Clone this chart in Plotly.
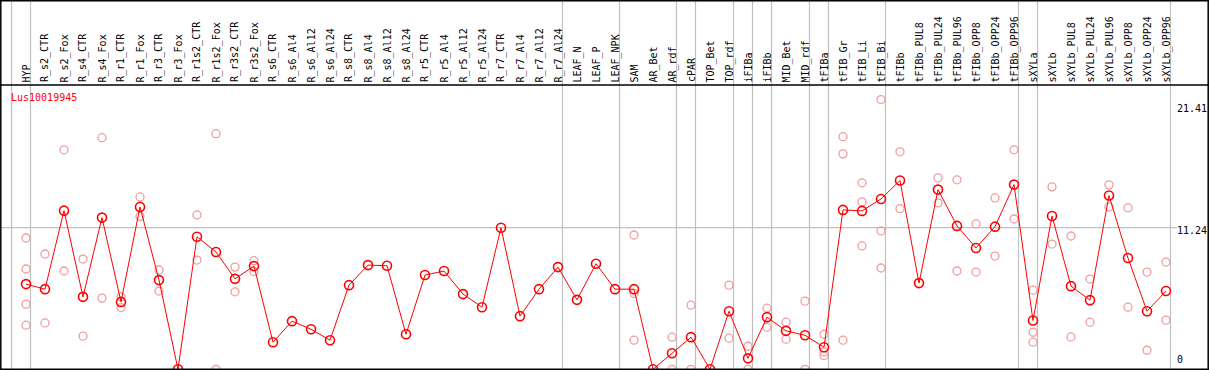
import plotly.graph_objects as go

categories = ["HYP", "R_s2_CTR", "R_s2_Fox", "R_s4_CTR", "R_s4_Fox", "R_r1_CTR", "R_r1_Fox",
              "R_r3_CTR", "R_r3_Fox", "R_r1s2_CTR", "R_r1s2_Fox", "R_r3s2_CTR", "R_r3s2_Fox",
              "R_s6_CTR", "R_s6_Al4", "R_s6_Al12", "R_s6_Al24", "R_s8_CTR", "R_s8_Al4",
              "R_s8_Al12", "R_s8_Al24", "R_r5_CTR", "R_r5_Al4", "R_r5_Al12", "R_r5_Al24",
              "R_r7_CTR", "R_r7_Al4", "R_r7_Al12", "R_r7_Al24", "LEAF_N", "LEAF_P", "LEAF_NPK",
              "SAM", "AR_Bet", "AR_rdf", "cPAR", "TOP_Bet", "TOP_rdf", "iFIBa", "iFIBb",
              "MID_Bet", "MID_rdf", "tFIBa", "tFIB_Gr", "tFIB_Li", "tFIB_Bi", "tFIBb",
              "tFIBb_PUL8", "tFIBb_PUL24", "tFIBb_PUL96", "tFIBb_OPP8", "tFIBb_OPP24",
              "tFIBb_OPP96", "sXYLa", "sXYLb", "sXYLb_PUL8", "sXYLb_PUL24", "sXYLb_PUL96",
              "sXYLb_OPP8", "sXYLb_OPP24", "sXYLb_OPP96"]

mean_values = [6.76, 6.36, 12.59, 5.75, 12.04, 5.35, 12.89, 7.08, 0.0, 10.52, 9.31, 7.18, 8.19,
               2.15, 3.82, 3.18, 2.31, 6.68, 8.27, 8.22, 2.78, 7.48, 7.80, 5.97, 4.93,
               11.24, 4.22, 6.36, 8.11, 5.51, 8.38, 6.36,
               6.36, 0.0, 1.27, 2.55, 0.0, 4.61, 0.87, 4.14, 3.05, 2.70, 1.75,
               12.65, 12.57, 13.52, 14.98,
               6.84, 14.26, 11.38, 9.63, 11.32, 14.66,
               3.87, 12.17, 6.60, 5.49, 13.79, 8.83, 4.61, 6.21]

N = None
rep_a = [10.42, 9.15, 17.42, 8.75, 18.38, 5.75, 13.68, 7.88, N, 12.25, 18.70, 8.11, 8.62,
         N, N, N, N, N, N, N, N, N, N, N, N, N, N, N, N, N, N, N,
         10.66, N, 2.55, 5.09, N, 6.68, 1.83, 4.85, 3.74, 5.41, 2.78,
         18.46, 14.80, 21.41, 17.26,
         N, 15.19, 15.04, 11.54, 13.60, 17.42,
         6.28, 14.48, 10.58, 7.16, 14.64, 12.81, 7.72, 8.51]
rep_b = [7.96, 3.68, 7.80, 2.63, 5.65, 4.90, 12.14, 6.21, N, 8.67, 0.0, 6.15, 7.76,
         N, N, N, N, N, N, N, N, N, N, N, N, N, N, N, N, N, N, N,
         6.01, N, 0.0, 0.0, N, 2.47, 0.0, 3.34, 2.39, 0.0, 1.38,
         17.10, 13.29, 10.98, 12.75,
         N, 13.21, 7.80, 7.72, 8.99, 11.93,
         2.94, 9.94, 2.57, 3.74, 12.89, 4.93, 1.51, 3.90]
rep_c = [5.17] + [N] * 31 + [2.31] + [N] * 9 + [1.08, 2.31, 9.79, 8.04] + [N] * 7 + [2.15] + [N] * 7
rep_d = [3.50] + [N] * 60

# number of categories in each separated block
group_sizes = [1, 28, 3, 3, 1, 2, 1, 1, 2, 1, 3, 7, 1, 7]

y_ticks = [21.41, 11.24, 0]
gene_name = "Lus10019945"

# ---------------------------------------------------------------
W, H = 1209, 370
x0_px, step_px = 26.0, 19.0
y0_px, scale_px = 369.3, 12.6

x_range = [-x0_px / step_px, (W - x0_px) / step_px]
y_range = [-(H - y0_px) / scale_px, y0_px / scale_px]

def ypix_to_paper(p):
    return 1 - p / H

def xpix_to_paper(p):
    return p / W

xs = list(range(len(categories)))

fig = go.Figure()

rx, ry = [], []
for rep in (rep_a, rep_b, rep_c, rep_d):
    for i, v in enumerate(rep):
        if v is not None:
            rx.append(i)
            ry.append(v)

fig.add_trace(go.Scatter(
    x=rx, y=ry, mode="markers",
    marker=dict(symbol="circle-open", size=8, color="#ef9d9d", line=dict(width=1.3, color="#ef9d9d")),
    hoverinfo="skip", showlegend=False))

fig.add_trace(go.Scatter(
    x=xs, y=mean_values, mode="lines+markers",
    line=dict(color="#ff0000", width=1),
    marker=dict(symbol="circle-open", size=9, color="#ff0000", line=dict(width=1.6, color="#ff0000")),
    showlegend=False))

shapes = []
# group separators
ends = [-1]
acc = -1
for g in group_sizes:
    acc += g
    ends.append(acc)
off = 4.5 / step_px
for e in ends:
    shapes.append(dict(type="line", xref="x", yref="paper", x0=e + off, x1=e + off, y0=0, y1=1,
                       line=dict(color="#c0c0c0", width=1.2), layer="below"))
# mid gridline
shapes.append(dict(type="line", xref="paper", yref="y", x0=0, x1=xpix_to_paper(1177),
                   y0=y_ticks[1], y1=y_ticks[1], line=dict(color="#c0c0c0", width=1.2), layer="below"))
# black frame and label separator
blk = dict(color="#000000", width=1.5)
shapes.append(dict(type="line", xref="paper", yref="paper", x0=0, x1=1,
                   y0=ypix_to_paper(85), y1=ypix_to_paper(85), line=blk))
shapes.append(dict(type="line", xref="paper", yref="paper", x0=0, x1=1,
                   y0=ypix_to_paper(0.7), y1=ypix_to_paper(0.7), line=blk))
shapes.append(dict(type="line", xref="paper", yref="paper", x0=0, x1=1,
                   y0=ypix_to_paper(369.3), y1=ypix_to_paper(369.3), line=blk))
shapes.append(dict(type="line", xref="paper", yref="paper", x0=xpix_to_paper(0.8), x1=xpix_to_paper(0.8),
                   y0=0, y1=1, line=blk))
shapes.append(dict(type="line", xref="paper", yref="paper", x0=xpix_to_paper(1208.2), x1=xpix_to_paper(1208.2),
                   y0=0, y1=1, line=blk))

font = dict(family="DejaVu Sans Mono", size=10, color="#000000")
annotations = []
for i, c in enumerate(categories):
    annotations.append(dict(x=i, y=ypix_to_paper(83.5), xref="x", yref="paper", text=c,
                            textangle=-90, xanchor="center", yanchor="bottom", showarrow=False,
                            font=font, borderpad=0))
annotations.append(dict(x=xpix_to_paper(9), y=ypix_to_paper(97), xref="paper", yref="paper",
                        text=gene_name, xanchor="left", yanchor="middle", showarrow=False,
                        font=dict(family="DejaVu Sans Mono", size=10, color="#ff0000")))
anchors = ["top", "middle", "bottom"]
shifts = [-2, -3, 3]
for v, a, s in zip(y_ticks, anchors, shifts):
    annotations.append(dict(x=xpix_to_paper(1176), y=v, xref="paper", yref="y",
                            text=("%g" % v), xanchor="left", yanchor=a, yshift=s,
                            showarrow=False, font=font, borderpad=0))

fig.update_layout(
    width=W, height=H, margin=dict(l=0, r=0, t=0, b=0),
    paper_bgcolor="white", plot_bgcolor="white",
    xaxis=dict(range=x_range, visible=False, showgrid=False, zeroline=False),
    yaxis=dict(range=y_range, visible=False, showgrid=False, zeroline=False),
    shapes=shapes, annotations=annotations,
)

fig.write_html(
    "out.html",
    config={"displayModeBar": False},
    post_script="document.body.style.margin='0';document.body.style.overflow='hidden';",
)
